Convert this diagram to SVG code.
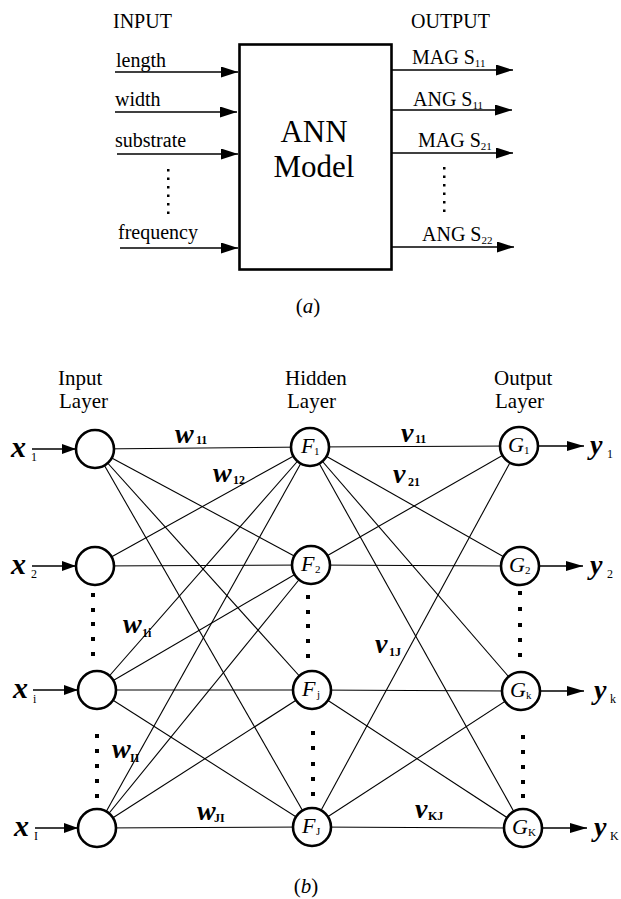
<svg xmlns="http://www.w3.org/2000/svg" width="621" height="899" viewBox="0 0 621 899">
<defs>
<marker id="ahA" markerUnits="userSpaceOnUse" markerWidth="17" markerHeight="11" refX="17" refY="5.5" orient="auto"><path d="M0,0 L17,5.5 L0,11 z" fill="#000"/></marker>
<marker id="ahI" markerUnits="userSpaceOnUse" markerWidth="14" markerHeight="10" refX="14" refY="5" orient="auto"><path d="M0,0 L14,5 L0,10 z" fill="#000"/></marker>
<marker id="ahO" markerUnits="userSpaceOnUse" markerWidth="17" markerHeight="10" refX="17" refY="5" orient="auto"><path d="M0,0 L17,5 L0,10 z" fill="#000"/></marker>
</defs>
<style>
text{font-family:"Liberation Serif","Times New Roman",serif;fill:#000}
.lbl{font-size:20px}
.sub{font-size:11px}
.big{font-size:31px;text-anchor:middle}
.lay{font-size:21px}
.var{font-size:28px;font-style:italic;font-weight:bold}
.xv{font-size:30px;font-style:italic;font-weight:bold}
.wsub{font-size:12px;font-weight:bold;font-style:normal}
.xsub{font-size:12px;font-weight:normal;font-style:normal}
.fn{font-size:22px;font-style:italic}
.fsub{font-size:11px;font-style:normal}
.cap{font-size:21px;text-anchor:middle}
.arA{stroke:#000;stroke-width:1.5;fill:none;marker-end:url(#ahA)}
.arI{stroke:#000;stroke-width:1.3;fill:none;marker-end:url(#ahI)}
.arO{stroke:#000;stroke-width:1.3;fill:none;marker-end:url(#ahO)}
.w{stroke:#000;stroke-width:1.1;fill:none}
.node{fill:#fff;stroke:#000;stroke-width:2.6}
.box{fill:#fff;stroke:#000;stroke-width:2.6}
.dot{fill:#000}
</style>

<!-- Part (a) -->
<text class="lbl" x="113" y="28">INPUT</text>
<text class="lbl" x="411" y="28">OUTPUT</text>

<g id="connectors-a">
<line class="arA" x1="115" y1="72" x2="238" y2="72"/>
<line class="arA" x1="115" y1="112" x2="237" y2="112"/>
<line class="arA" x1="117" y1="154" x2="238" y2="154"/>
<line class="arA" x1="120" y1="248" x2="238" y2="248"/>
<line class="arA" x1="392" y1="70" x2="513" y2="70"/>
<line class="arA" x1="392" y1="110" x2="512" y2="110"/>
<line class="arA" x1="392" y1="153" x2="513" y2="153"/>
<line class="arA" x1="392" y1="247" x2="514" y2="247"/>
</g>

<g id="ann-model">
<rect class="box" x="239.5" y="44.5" width="152" height="225"/>
<text class="big" x="314" y="142">ANN</text>
<text class="big" x="314" y="177">Model</text>
</g>

<g id="inputs-a">
<text class="lbl" x="116" y="67">length</text>
<text class="lbl" x="115" y="106">width</text>
<text class="lbl" x="115" y="147">substrate</text>
<g class="dot">
<rect x="167" y="169" width="2.5" height="2.5"/><rect x="167" y="177.5" width="2.5" height="2.5"/><rect x="167" y="186" width="2.5" height="2.5"/><rect x="167" y="194.5" width="2.5" height="2.5"/><rect x="167" y="203" width="2.5" height="2.5"/><rect x="167" y="211.5" width="2.5" height="2.5"/>
</g>
<text class="lbl" x="118" y="239">frequency</text>
</g>

<g id="outputs-a">
<text class="lbl" x="412" y="64">MAG S<tspan class="sub" dy="3">11</tspan></text>
<text class="lbl" x="413" y="106">ANG S<tspan class="sub" dy="3">11</tspan></text>
<text class="lbl" x="418" y="147">MAG S<tspan class="sub" dy="3">21</tspan></text>
<g class="dot">
<rect x="443" y="167" width="2.5" height="2.5"/><rect x="443" y="175.5" width="2.5" height="2.5"/><rect x="443" y="184" width="2.5" height="2.5"/><rect x="443" y="192.5" width="2.5" height="2.5"/><rect x="443" y="201" width="2.5" height="2.5"/><rect x="443" y="209.5" width="2.5" height="2.5"/>
</g>
<text class="lbl" x="422" y="241">ANG S<tspan class="sub" dy="3">22</tspan></text>
</g>

<text class="cap" x="308" y="313">(<tspan font-style="italic">a</tspan>)</text>

<!-- Part (b) -->
<text class="lay" x="58" y="385">Input</text>
<text class="lay" x="59" y="408">Layer</text>
<text class="lay" x="285" y="385">Hidden</text>
<text class="lay" x="287" y="408">Layer</text>
<text class="lay" x="494" y="385">Output</text>
<text class="lay" x="495" y="408">Layer</text>

<g id="connectors-b">
<!-- input to hidden -->
<line class="w" x1="95" y1="449" x2="310" y2="447"/>
<line class="w" x1="95" y1="449" x2="311" y2="565"/>
<line class="w" x1="95" y1="449" x2="312" y2="690"/>
<line class="w" x1="95" y1="449" x2="312" y2="827"/>
<line class="w" x1="95" y1="566" x2="310" y2="447"/>
<line class="w" x1="95" y1="566" x2="311" y2="565"/>
<line class="w" x1="97" y1="690" x2="310" y2="447"/>
<line class="w" x1="97" y1="690" x2="311" y2="565"/>
<line class="w" x1="97" y1="690" x2="312" y2="690"/>
<line class="w" x1="97" y1="690" x2="312" y2="827"/>
<line class="w" x1="97" y1="828" x2="310" y2="447"/>
<line class="w" x1="97" y1="828" x2="311" y2="565"/>
<line class="w" x1="97" y1="828" x2="312" y2="690"/>
<line class="w" x1="97" y1="828" x2="312" y2="827"/>
<!-- hidden to output -->
<line class="w" x1="310" y1="447" x2="519" y2="446"/>
<line class="w" x1="310" y1="447" x2="520" y2="566"/>
<line class="w" x1="310" y1="447" x2="521" y2="691"/>
<line class="w" x1="310" y1="447" x2="523" y2="828"/>
<line class="w" x1="311" y1="565" x2="519" y2="446"/>
<line class="w" x1="311" y1="565" x2="520" y2="566"/>
<line class="w" x1="312" y1="690" x2="521" y2="691"/>
<line class="w" x1="312" y1="690" x2="523" y2="828"/>
<line class="w" x1="312" y1="827" x2="519" y2="446"/>
<line class="w" x1="312" y1="827" x2="521" y2="691"/>
<line class="w" x1="312" y1="827" x2="523" y2="828"/>
<!-- input arrows -->
<line class="arI" x1="32" y1="449" x2="76" y2="449"/>
<line class="arI" x1="32" y1="566" x2="76" y2="566"/>
<line class="arI" x1="33" y1="690" x2="78" y2="690"/>
<line class="arI" x1="35" y1="828" x2="78" y2="828"/>
<!-- output arrows -->
<line class="arO" x1="538" y1="446" x2="584" y2="446"/>
<line class="arO" x1="539" y1="566" x2="583" y2="566"/>
<line class="arO" x1="540" y1="691" x2="584" y2="691"/>
<line class="arO" x1="542" y1="828" x2="587" y2="828"/>
</g>

<g id="weights">
<text class="var" x="175" y="443">w<tspan class="wsub" x="196" y="444">11</tspan></text>
<text class="var" x="213" y="482">w<tspan class="wsub" x="233" y="484">12</tspan></text>
<text class="var" x="123" y="633">w<tspan class="wsub" x="142" y="637">1i</tspan></text>
<text class="var" x="112" y="758">w<tspan class="wsub" x="130" y="762">II</tspan></text>
<text class="var" x="197" y="820">w<tspan class="wsub" x="214" y="822">JI</tspan></text>
<text class="var" x="401" y="442">v<tspan class="wsub" x="415" y="443">11</tspan></text>
<text class="var" x="393" y="483">v<tspan class="wsub" x="408" y="486">21</tspan></text>
<text class="var" x="375" y="653">v<tspan class="wsub" x="389" y="656">1J</tspan></text>
<text class="var" x="415" y="818">v<tspan class="wsub" x="428" y="820">KJ</tspan></text>
</g>

<g id="x1"><text class="xv" x="11" y="457">x<tspan class="xsub" x="31" y="461">1</tspan></text><circle class="node" cx="95" cy="449" r="19"/></g>
<g id="x2"><text class="xv" x="11" y="574">x<tspan class="xsub" x="31" y="578">2</tspan></text><circle class="node" cx="95" cy="566" r="19"/></g>
<g id="xi"><text class="xv" x="13" y="698">x<tspan class="xsub" x="33" y="703">i</tspan></text><circle class="node" cx="97" cy="690" r="19"/></g>
<g id="xI"><text class="xv" x="14" y="836">x<tspan class="xsub" x="34" y="840">I</tspan></text><circle class="node" cx="97" cy="828" r="19"/></g>

<g class="dot" id="dots-input">
<rect x="91" y="593" width="4" height="4"/><rect x="91" y="608" width="4" height="4"/><rect x="91" y="622" width="4" height="4"/><rect x="91" y="637" width="4" height="4"/><rect x="91" y="652" width="4" height="4"/>
<rect x="95" y="734" width="4" height="4"/><rect x="95" y="749" width="4" height="4"/><rect x="95" y="764" width="4" height="4"/><rect x="95" y="779" width="4" height="4"/><rect x="95" y="794" width="4" height="4"/>
</g>

<g id="F1"><circle class="node" cx="310" cy="447" r="19"/><text class="fn" x="301" y="453">F<tspan class="fsub" x="314" y="455">1</tspan></text></g>
<g id="F2"><circle class="node" cx="311" cy="565" r="19"/><text class="fn" x="301" y="571">F<tspan class="fsub" x="315" y="573">2</tspan></text></g>
<g id="Fj"><circle class="node" cx="312" cy="690" r="19"/><text class="fn" x="302" y="696">F<tspan class="fsub" x="317" y="698">j</tspan></text></g>
<g id="FJ"><circle class="node" cx="312" cy="827" r="19"/><text class="fn" x="302" y="833">F<tspan class="fsub" x="316" y="835">J</tspan></text></g>

<g class="dot" id="dots-hidden">
<rect x="306" y="595" width="4" height="4"/><rect x="306" y="610" width="4" height="4"/><rect x="306" y="624" width="4" height="4"/><rect x="306" y="639" width="4" height="4"/><rect x="306" y="654" width="4" height="4"/>
<rect x="311" y="731" width="4" height="4"/><rect x="311" y="746" width="4" height="4"/><rect x="311" y="762" width="4" height="4"/><rect x="311" y="777" width="4" height="4"/><rect x="311" y="792" width="4" height="4"/>
</g>

<g id="G1"><circle class="node" cx="519" cy="446" r="19"/><text class="fn" x="508" y="452">G<tspan class="fsub" x="524" y="454">1</tspan></text></g>
<g id="G2"><circle class="node" cx="520" cy="566" r="19"/><text class="fn" x="509" y="572">G<tspan class="fsub" x="525" y="574">2</tspan></text></g>
<g id="Gk"><circle class="node" cx="521" cy="691" r="19"/><text class="fn" x="510" y="697">G<tspan class="fsub" x="526" y="699">k</tspan></text></g>
<g id="GK"><circle class="node" cx="523" cy="828" r="19"/><text class="fn" x="512" y="834">G<tspan class="fsub" x="528" y="836">K</tspan></text></g>

<g class="dot" id="dots-output">
<rect x="518" y="591" width="4" height="4"/><rect x="518" y="607" width="4" height="4"/><rect x="518" y="623" width="4" height="4"/><rect x="518" y="638" width="4" height="4"/><rect x="518" y="653" width="4" height="4"/>
<rect x="521" y="735" width="4" height="4"/><rect x="521" y="750" width="4" height="4"/><rect x="521" y="765" width="4" height="4"/><rect x="521" y="780" width="4" height="4"/><rect x="521" y="794" width="4" height="4"/>
</g>

<g id="y-labels">
<text class="var" x="590" y="454">y<tspan class="xsub" x="607" y="458">1</tspan></text>
<text class="var" x="590" y="574">y<tspan class="xsub" x="607" y="578">2</tspan></text>
<text class="var" x="594" y="699">y<tspan class="xsub" x="610" y="703">k</tspan></text>
<text class="var" x="594" y="836">y<tspan class="xsub" x="610" y="840">K</tspan></text>
</g>

<text class="cap" x="306" y="893">(<tspan font-style="italic">b</tspan>)</text>
</svg>
